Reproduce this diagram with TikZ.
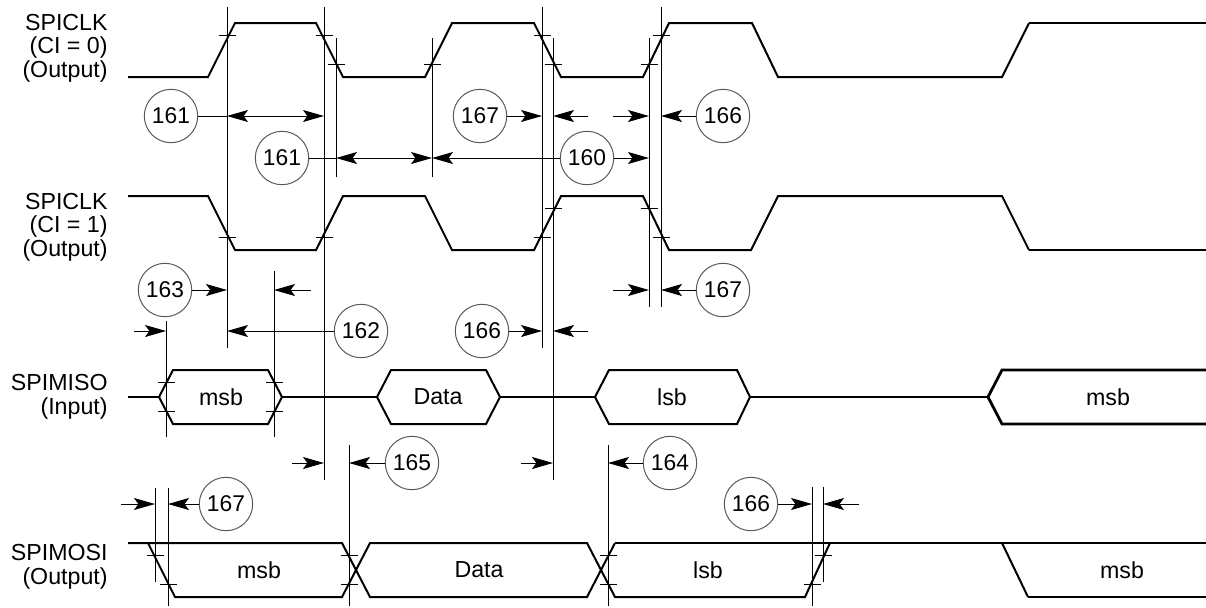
\documentclass[tikz,border=0pt]{standalone}
\usepackage{fontspec}
\setmainfont{Liberation Sans}
\usetikzlibrary{arrows.meta}
\tikzset{
x=0.5pt, y=-0.5pt, % one unit per pixel, y runs down
>={Stealth[length=10.5pt, width=6pt, inset=2.2pt]},
wave/.style={line width=1pt, line join=miter}, % signal traces
bus/.style={line width=1.4pt}, % heavier trace parts
guide/.style={line width=0.5pt}, % timing marks and dimension lines
num/.style={circle, draw=black!65, line width=0.5pt, minimum size=26.7pt, inner sep=0pt, font=\fontsize{11.4}{12}\selectfont},
sig/.style={align=right, anchor=east, inner sep=0pt, font=\fontsize{11.6}{11.8}\selectfont},
val/.style={font=\fontsize{11.6}{12}\selectfont},
}

\begin{document}
\begin{tikzpicture}
\useasboundingbox (0,0) rectangle (1206,607);

% signal names
\node[sig] (clk0) at (108,48) {SPICLK\\(CI = 0)\\(Output)};
\node[sig] (clk1) at (108,227) {SPICLK\\(CI = 1)\\(Output)};
\node[sig] (miso) at (108,397) {SPIMISO\\(Input)};
\node[sig] (mosi) at (108,567) {SPIMOSI\\(Output)};

% clocks
\draw[wave] (128,77) -- (208,77) -- (235,23) -- (316,23) -- (343,77) -- (425,77) -- (452,23) -- (534,23) -- (561,77) -- (643,77) -- (669,23) -- (752,23) -- (778,77) -- (1002,77) -- (1029,23);
\draw[bus] (1029,23) -- (1206,23);
\draw[wave] (128,196) -- (208,196) -- (235,250) -- (316,250) -- (343,196) -- (425,196) -- (452,250) -- (534,250) -- (561,196) -- (643,196) -- (669,250) -- (751,250) -- (778,196) -- (1002,196) -- (1029,250);
\draw[bus] (1029,250) -- (1206,250);

% SPIMISO
\draw[bus] (128,397) -- (159,397) (282,397) -- (377,397) (500,397) -- (595,397) (750,397) -- (988,397);
\draw[wave] (159,397) -- (173,370) -- (268,370) -- (282,397) -- (268,424) -- (173,424) -- cycle;
\draw[wave] (377,397) -- (391,370) -- (486,370) -- (500,397) -- (486,424) -- (391,424) -- cycle;
\draw[wave] (595,397) -- (609,370) -- (737,370) -- (750,397) -- (737,424) -- (609,424) -- cycle;
\draw[bus] (1206,370) -- (1002,370) -- (988,397) -- (1002,424) -- (1206,424);
\node[val] (miso1) at (221,397) {msb};
\node[val] (miso2) at (438,397) {Data};
\node[val] (miso3) at (672,397) {lsb};
\node[val] (miso4) at (1108,397) {msb};

% SPIMOSI
\draw[wave] (128,543) -- (342,543) -- (370,597) -- (587,597) -- (615,543);
\draw[wave] (148,543) -- (175,597) -- (342,597) -- (370,543) -- (587,543) -- (615,597) -- (805,597) -- (830,543);
\draw[bus] (615,543) -- (1206,543);
\draw[wave] (1002,543) -- (1028,597);
\draw[bus] (1028,597) -- (1206,597);
\node[val] (mosi1) at (259,570) {msb};
\node[val] (mosi2) at (479,570) {Data};
\node[val] (mosi3) at (708,570) {lsb};
\node[val] (mosi4) at (1122,570) {msb};

% timing lines
\foreach \x/\a/\b in {227/7/348, 324/7/480, 336/38/177, 432/38/177, 542/7/348, 553/38/480, 649/38/307, 661/7/307,
  166/321/437, 274/271/437, 349/445/606, 608/445/606, 155/488/582, 168/488/606, 812/487/606, 823/487/582} {
  \coordinate (g\x) at (\x,0);
  \draw[guide] (\x,\a) -- (\x,\b);
}
\foreach \x/\y in {227/35, 324/35, 336/64, 432/64, 542/35, 553/64, 649/64, 661/35,
  227/237, 324/237, 542/237, 553/208, 649/208, 661/237,
  166/382, 166/411, 274/382, 274/411,
  155/555, 168/584, 349/555, 349/584, 608/555, 608/584, 812/584, 823/555}
  \draw[guide] (\x-8.5,\y) -- (\x+8.5,\y);

% parameter numbers
\node[num] (n161a) at (171,116) {161};
\node[num] (n161b) at (282,158) {161};
\node[num] (n167a) at (480,116) {167};
\node[num] (n160) at (587,158) {160};
\node[num] (n166a) at (723,116) {166};
\node[num] (n163) at (165,290) {163};
\node[num] (n162) at (361,331) {162};
\node[num] (n166b) at (482,331) {166};
\node[num] (n167b) at (723,290) {167};
\node[num] (n165) at (412,463) {165};
\node[num] (n164) at (670,463) {164};
\node[num] (n167c) at (226,504) {167};
\node[num] (n166c) at (751,504) {166};

% dimension arrows
\draw[guide] (n161a) -- (g227 |- n161a);
\draw[guide, <->] (g227 |- n161a) -- (g324 |- n161a);
\draw[guide] (n161b) -- (g336 |- n161b);
\draw[guide, <->] (g336 |- n161b) -- (g432 |- n161b);
\draw[guide, ->] (n160) -- (g432 |- n160);
\draw[guide, ->] (n160) -- (g649 |- n160);
\draw[guide, ->] (n167a) -- (g542 |- n167a);
\draw[guide, ->] (588,116) -- (g553 |- n167a);
\draw[guide, ->] (613,116) -- (g649 |- n166a);
\draw[guide, ->] (n166a) -- (g661 |- n166a);
\draw[guide, ->] (n163) -- (g227 |- n163);
\draw[guide, ->] (311,290) -- (g274 |- n163);
\draw[guide, ->] (n162) -- (g227 |- n162);
\draw[guide, ->] (134,331) -- (g166 |- n162);
\draw[guide, ->] (n166b) -- (g542 |- n166b);
\draw[guide, ->] (588,331) -- (g553 |- n166b);
\draw[guide, ->] (n167b) -- (g661 |- n167b);
\draw[guide, ->] (613,290) -- (g649 |- n167b);
\draw[guide, ->] (n165) -- (g349 |- n165);
\draw[guide, ->] (292,463) -- (g324 |- n165);
\draw[guide, ->] (n164) -- (g608 |- n164);
\draw[guide, ->] (521,463) -- (g553 |- n164);
\draw[guide, ->] (n167c) -- (g168 |- n167c);
\draw[guide, ->] (121,504) -- (g155 |- n167c);
\draw[guide, ->] (n166c) -- (g812 |- n166c);
\draw[guide, ->] (859,504) -- (g823 |- n166c);

\end{tikzpicture}
\end{document}
